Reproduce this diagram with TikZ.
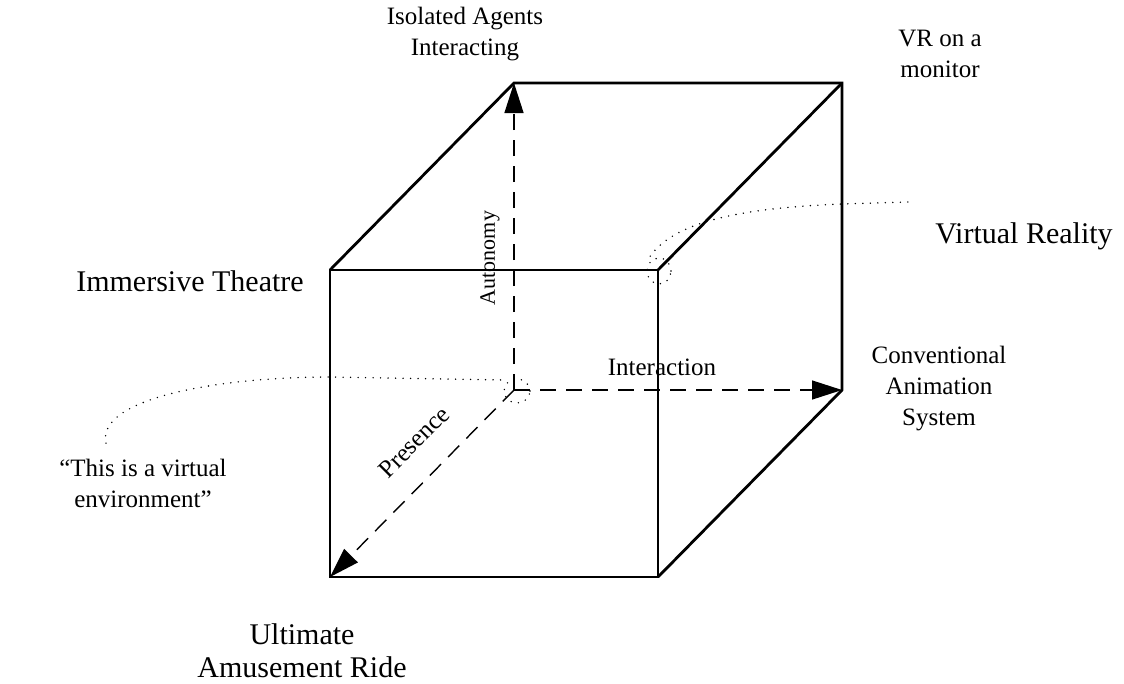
\documentclass[tikz,border=0pt]{standalone}
\usepackage{fontspec}
\setmainfont{Liberation Serif}
\usetikzlibrary{arrows.meta}
\begin{document}
\begin{tikzpicture}[x=1pt,y=-1pt,
  edge/.style={line width=2.8pt,line join=miter},
  axis/.style={line width=1.4pt,dash pattern=on 16pt off 10pt,-{Triangle[length=30pt,width=19pt]}},
  leader/.style={line width=1.6pt,line cap=round,dash pattern=on 0pt off 7.5pt},
  small/.style={font=\fontsize{25}{31}\selectfont,align=center},
  big/.style={font=\fontsize{30}{33}\selectfont,align=center},
  axislabel/.style={font=\fontsize{25}{30}\selectfont}]
\useasboundingbox (0,0) rectangle (1124,683);
% front face
\coordinate (F1) at (330,270);
\coordinate (F2) at (658,270);
\coordinate (F3) at (658,577);
\coordinate (F4) at (330,577);
% back face
\coordinate (B1) at (514,83);
\coordinate (B2) at (842,83);
\coordinate (B3) at (842,390);
\coordinate (O) at (514,390);
% hidden axes
\draw[axis] (O) -- (B1);
\draw[axis] (O) -- (B3);
\draw[axis] (O) -- (F4);
% visible edges
\draw[edge] (F1) -- (F2) -- (F3) -- (F4) -- cycle;
\draw[edge] (F1) -- (B1) -- (B2) -- (B3) -- (F3);
\draw[edge] (F2) -- (B2);
% axis labels
\node[axislabel,font=\fontsize{22}{26}\selectfont,rotate=90] (aut) at (490,258) {Autonomy};
\node[axislabel] (int) at (662,367) {Interaction};
\node[axislabel,rotate=45] (pre) at (414,442) {Presence};
% corner labels
\node[small] (iso) at (465,34) {Isolated Agents\\Interacting};
\node[small] (vrm) at (940,54) {VR on a\\monitor};
\node[big] (vr) at (1024,236) {Virtual Reality};
\node[big] (imm) at (190,281) {Immersive Theatre};
\node[small] (conv) at (939,389) {Conventional\\Animation\\System};
\node[small] (thi) at (143,483) {“This is a virtual\\environment”};
\node[big] (ult) at (302,651) {Ultimate\\Amusement Ride};
% leaders from labels to corners (canvas y points up, so shifts are upward)
\coordinate (vrl) at ([xshift=-24pt,yshift=34pt]vr.west);
\draw[leader] (vrl) -- (842,204) .. controls (740,208) and (672,222) .. (649,258);
\draw[leader] (659,271) ellipse [x radius=12pt,y radius=13pt];
\coordinate (thl) at ([xshift=-37pt,yshift=12pt]thi.north);
\draw[leader] (thl) .. controls (96,398) and (220,377) .. (330,377) -- (503,380);
\draw[leader] (517,391) ellipse [x radius=13pt,y radius=12pt];
\end{tikzpicture}
\end{document}
